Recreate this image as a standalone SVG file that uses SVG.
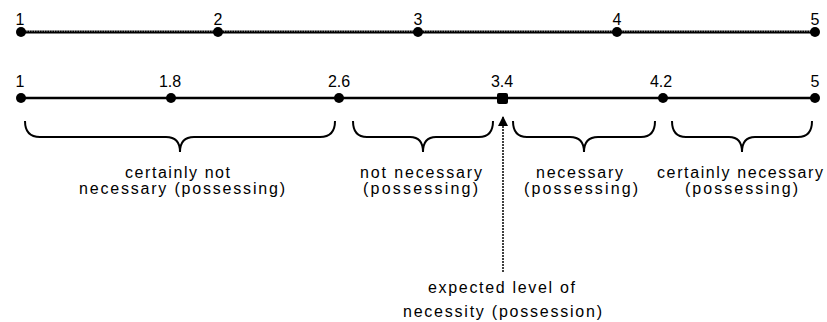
<svg xmlns="http://www.w3.org/2000/svg" width="827" height="322" viewBox="0 0 827 322">
<defs>
<style>
text{font-family:"Liberation Sans",Arial,sans-serif;font-size:16px;fill:#000;text-anchor:middle}
.num{font-size:16px}
.axis{stroke:#000;stroke-width:3;fill:none}
.axis2{stroke:#000;stroke-width:2.5;fill:none}
.tex{stroke:#fff;stroke-width:0.8;stroke-dasharray:1 1.5;fill:none}
.brace{stroke:#000;stroke-width:2;fill:none}
.dot{fill:#000}
.lead{stroke:#000;stroke-width:1.5;stroke-dasharray:2 1;fill:none}
</style>
<marker id="ah" viewBox="0 0 10 10" refX="10" refY="5" markerWidth="10" markerHeight="10" markerUnits="userSpaceOnUse" orient="auto">
<path d="M0,0 L10,5 L0,10 Z" fill="#000"/>
</marker>
</defs>
<g id="scale-top">
<line class="axis" x1="20" y1="32" x2="816" y2="32"/>
<line class="tex" x1="24" y1="31" x2="812" y2="31"/>
<circle class="dot" cx="21" cy="32" r="5"/>
<circle class="dot" cx="218" cy="32" r="5"/>
<circle class="dot" cx="418" cy="32" r="5"/>
<circle class="dot" cx="617" cy="32" r="5"/>
<circle class="dot" cx="815" cy="32" r="5"/>
<text class="num" x="20" y="25">1</text>
<text class="num" x="218" y="25">2</text>
<text class="num" x="418" y="25">3</text>
<text class="num" x="617" y="25">4</text>
<text class="num" x="815" y="25">5</text>
</g>
<g id="scale-bottom">
<line class="axis2" x1="20" y1="98" x2="816" y2="98"/>
<circle class="dot" cx="21" cy="98" r="5"/>
<circle class="dot" cx="171" cy="98" r="5"/>
<circle class="dot" cx="339" cy="98" r="5"/>
<rect class="dot" x="497" y="93" width="11" height="11" rx="2"/>
<circle class="dot" cx="663" cy="98" r="5"/>
<circle class="dot" cx="815" cy="98" r="5"/>
<text class="num" x="20" y="87">1</text>
<text class="num" x="170" y="87">1.8</text>
<text class="num" x="339" y="87">2.6</text>
<text class="num" x="502" y="87">3.4</text>
<text class="num" x="661" y="87">4.2</text>
<text class="num" x="815" y="87">5</text>
</g>
<g id="range-certainly-not">
<path class="brace" d="M25,121 Q25,137 40,137 L166,137 Q180,137 180,152 Q180,137 194,137 L320,137 Q335,137 335,121"/>
<text x="177.5" y="178" textLength="105" lengthAdjust="spacing">certainly not</text>
<text x="182" y="194" textLength="206" lengthAdjust="spacing">necessary (possessing)</text>
</g>
<g id="range-not">
<path class="brace" d="M353,121 Q353,137 367,137 L410,137 Q423,137 423,152 Q423,137 436,137 L479,137 Q493,137 493,121"/>
<text x="421" y="178" textLength="122" lengthAdjust="spacing">not necessary</text>
<text x="420.5" y="194" textLength="115" lengthAdjust="spacing">(possessing)</text>
</g>
<g id="range-necessary">
<path class="brace" d="M513,121 Q513,137 527,137 L570,137 Q584,137 584,152 Q584,137 598,137 L641,137 Q655,137 655,121"/>
<text x="579.5" y="178" textLength="87" lengthAdjust="spacing">necessary</text>
<text x="581" y="194" textLength="114" lengthAdjust="spacing">(possessing)</text>
</g>
<g id="range-certainly">
<path class="brace" d="M672,121 Q672,137 686,137 L729,137 Q742,137 742,152 Q742,137 755,137 L798,137 Q812,137 812,121"/>
<text x="740" y="178" textLength="166" lengthAdjust="spacing">certainly necessary</text>
<text x="741.5" y="194" textLength="113" lengthAdjust="spacing">(possessing)</text>
</g>
<g id="connectors">
<line class="lead" x1="503" y1="272" x2="503" y2="116" marker-end="url(#ah)"/>
</g>
<g id="expected">
<text x="501.5" y="293" textLength="147" lengthAdjust="spacing">expected level of</text>
<text x="502.5" y="317" textLength="199" lengthAdjust="spacing">necessity (possession)</text>
</g>
</svg>
